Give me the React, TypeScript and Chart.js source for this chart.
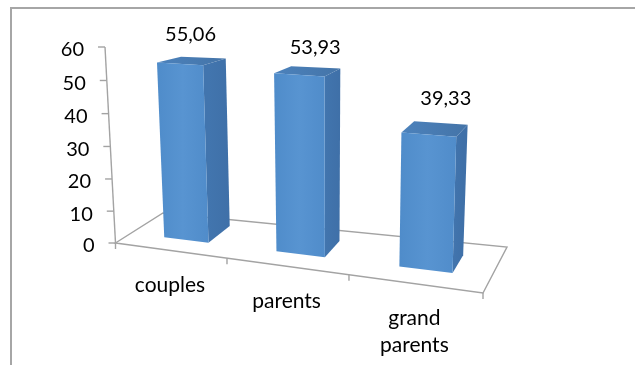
import React, { useEffect, useRef } from "react";
import { Chart, registerables } from "chart.js";

Chart.register(...registerables);

const categories: (string | string[])[] = ["couples", "parents", ["grand", "parents"]];
const values = [55.06, 53.93, 39.33];
const valueLabels = ["55,06", "53,93", "39,33"];
const yMax = 60;
const yStep = 10;

const NUMBER_FONT = '20px Lato, Carlito, "Open Sans", sans-serif';
const WORD_FONT = '21px Lato, Carlito, "Open Sans", sans-serif';
const GREY = "#a3a3a3";

// Floor of the 3D scene, as seen on screen.
const FLOOR = {
  frontLeft: [115.5, 243],
  frontRight: [483, 293],
  backRight: [507, 247],
  backLeft: [163, 213],
};
const FORESHORTEN = 0.871;
const BAR_WIDTH = 0.135;
const BAR_SHIFT = 0.005;
const BAR_FRONT_DEPTH = 0.33;
const LABEL_DEPTH = 0.75;
const barBackDepth = [0.83, 0.75, 0.73];

// Screen nudges for the data labels, relative to the centre of each bar's top.
const labelNudge = [
  [1, -26],
  [8, -23],
  [11, -30],
];

type Pt = [number, number];

// Maps (t along the category axis, d into the scene, h up the value axis) to the canvas.
function project(t: number, d: number, h: number): Pt {
  const u = (FORESHORTEN * t) / (1 + (FORESHORTEN - 1) * t);
  const { frontLeft: a, frontRight: b, backRight: c, backLeft: e } = FLOOR;
  const gx = (1 - u) * (1 - d) * a[0] + u * (1 - d) * b[0] + u * d * c[0] + (1 - u) * d * e[0];
  const gy = (1 - u) * (1 - d) * a[1] + u * (1 - d) * b[1] + u * d * c[1] + (1 - u) * d * e[1];
  const lean = -10.5 + 17 * u + 3 * d;
  const rise = 196 + 24 * u - 22 * d;
  const eased = h * (0.97 + 0.03 * h);
  return [gx + lean * eased, gy - rise * eased];
}

function poly(ctx: CanvasRenderingContext2D, pts: Pt[], fill: string | CanvasGradient) {
  ctx.beginPath();
  pts.forEach((p, i) => (i ? ctx.lineTo(p[0], p[1]) : ctx.moveTo(p[0], p[1])));
  ctx.closePath();
  ctx.fillStyle = fill;
  ctx.fill();
}

function line(ctx: CanvasRenderingContext2D, from: Pt, to: Pt) {
  ctx.beginPath();
  ctx.moveTo(from[0], from[1]);
  ctx.lineTo(to[0], to[1]);
  ctx.stroke();
}

const scene3d = {
  id: "scene3d",
  afterDatasetsDraw(chart: any) {
    const ctx: CanvasRenderingContext2D = chart.ctx;
    const xs = chart.scales.x;
    const ys = chart.scales.y;
    const tOf = (px: number) => (px - xs.left) / (xs.right - xs.left);
    const hOf = (v: number) => (ys.bottom - ys.getPixelForValue(v)) / (ys.bottom - ys.top);
    const n = chart.data.labels.length;

    ctx.save();

    // Outer frame, open at the right and bottom.
    ctx.strokeStyle = "#a6a6a6";
    ctx.lineWidth = 2;
    ctx.beginPath();
    ctx.moveTo(11, 365);
    ctx.lineTo(11, 8);
    ctx.lineTo(635, 8);
    ctx.stroke();

    // Floor outline and the value axis.
    ctx.strokeStyle = GREY;
    ctx.lineWidth = 1.4;
    ctx.beginPath();
    [project(0, 0, 0), project(1, 0, 0), project(1, 1, 0), project(0, 1, 0)].forEach((p, i) =>
      i ? ctx.lineTo(p[0], p[1]) : ctx.moveTo(p[0], p[1])
    );
    ctx.closePath();
    ctx.stroke();
    line(ctx, project(0, 0, 0), project(0, 0, 1));

    // Category tick marks and labels along the front edge.
    ctx.textAlign = "center";
    ctx.textBaseline = "middle";
    for (let i = 0; i <= n; i++) {
      const p = project(i / n, 0, 0);
      line(ctx, p, [p[0], p[1] + 6]);
    }
    ctx.font = WORD_FONT;
    ctx.fillStyle = "#000";
    (chart.data.labels as (string | string[])[]).forEach((label, i) => {
      const p = project(tOf(xs.getPixelForValue(i)), 0, 0);
      const lines = Array.isArray(label) ? label : [label];
      lines.forEach((text, j) => ctx.fillText(text, p[0], p[1] + 35 + j * 27));
    });

    // Value ticks and labels, following the leaning axis.
    ctx.font = NUMBER_FONT;
    ctx.textAlign = "right";
    ys.ticks.forEach((tick: any) => {
      const p = project(0, 0, hOf(tick.value));
      line(ctx, p, [p[0] - 7, p[1]]);
      ctx.fillStyle = "#000";
      ctx.fillText(String(tick.value), p[0] - 21, p[1] + 3);
    });

    // Bars: side, top, then front face.
    chart.data.datasets[0].data.forEach((v: number, i: number) => {
      const c = tOf(xs.getPixelForValue(i)) + BAR_SHIFT;
      const l = c - BAR_WIDTH / 2;
      const r = c + BAR_WIDTH / 2;
      const d0 = BAR_FRONT_DEPTH;
      const d1 = barBackDepth[i];
      const h = hOf(v);

      const fbl = project(l, d0, 0);
      const fbr = project(r, d0, 0);
      const ftl = project(l, d0, h);
      const ftr = project(r, d0, h);
      const bbr = project(r, d1, 0);
      const btr = project(r, d1, h);
      const btl = project(l, d1, h);

      const side = ctx.createLinearGradient(fbr[0], 0, bbr[0], 0);
      side.addColorStop(0, "#4275ae");
      side.addColorStop(1, "#3f70a8");
      poly(ctx, [fbr, bbr, btr, ftr], side);

      const top = ctx.createLinearGradient(ftl[0], 0, btr[0], 0);
      top.addColorStop(0, "#4c82bc");
      top.addColorStop(1, "#4474a8");
      poly(ctx, [ftl, ftr, btr, btl], top);

      const front = ctx.createLinearGradient(Math.min(ftl[0], fbl[0]), 0, Math.max(ftr[0], fbr[0]), 0);
      front.addColorStop(0, "#4f8cca");
      front.addColorStop(0.5, "#5894d1");
      front.addColorStop(1, "#508cca");
      poly(ctx, [fbl, fbr, ftr, ftl], front);

      const mark = project(r, LABEL_DEPTH, h);
      const cx = (ftl[0] + mark[0]) / 2;
      const cy = (ftl[1] + mark[1]) / 2;
      ctx.textAlign = "center";
      ctx.fillStyle = "#000";
      ctx.fillText(valueLabels[i], cx + labelNudge[i][0], cy + labelNudge[i][1]);
    });

    ctx.restore();
  },
};

export default function App() {
  const ref = useRef<HTMLCanvasElement>(null);
  useEffect(() => {
    const chart = new Chart(ref.current!, {
      type: "bar",
      data: {
        labels: categories as any,
        datasets: [{ data: values, backgroundColor: "rgba(0,0,0,0)", borderWidth: 0 }],
      },
      options: {
        responsive: false,
        animation: false,
        layout: { padding: { left: 115.5, right: 152, top: 48, bottom: 122 } },
        plugins: { legend: { display: false }, tooltip: { enabled: false } },
        scales: {
          x: { display: false },
          y: { display: false, min: 0, max: yMax, ticks: { stepSize: yStep } },
        },
      },
      plugins: [scene3d],
    });
    return () => chart.destroy();
  }, []);
  return (
    <div style={{ position: "fixed", left: 0, top: 0, width: 635, height: 365, background: "#fff" }}>
      <canvas ref={ref} width={635} height={365} style={{ display: "block" }} />
    </div>
  );
}
